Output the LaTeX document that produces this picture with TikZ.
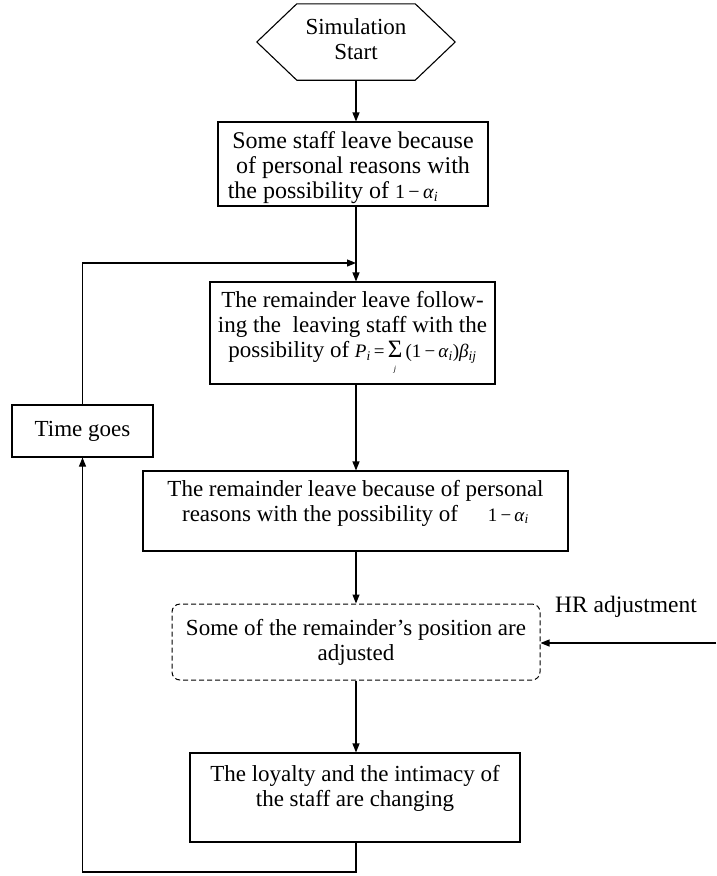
\documentclass[tikz,border=0pt]{standalone}
\usepackage{fontspec}
\setmainfont{Liberation Serif}
\usetikzlibrary{arrows.meta}

% small formula helpers (Times-like italic variables, tiny subscripts)
\newcommand{\mth}[1]{{\fontsize{19}{19}\selectfont #1}}
\newcommand{\ivar}[1]{\textit{#1}}
\newcommand{\isub}[1]{\textsubscript{\textit{#1}}}
\newcommand{\sumj}{\(\mathop{\hbox{\fontsize{25}{25}\selectfont Σ}}\limits_{\hbox{\vrule height 12pt width 0pt\fontsize{8}{8}\selectfont\itshape j}}\)}

\begin{document}
\begin{tikzpicture}[x=1pt,y=-1pt,
  every node/.style={font=\fontsize{23}{25}\selectfont},
  box/.style={draw, line width=1.1pt, inner sep=0pt, align=center},
  frame/.style={draw, line width=1.1pt, inner sep=0pt},
  lbl/.style={inner sep=0pt, align=center},
  wire/.style={line width=1.1pt},
  link/.style={line width=1.1pt, -{Triangle[length=9pt,width=7pt]}}]

\useasboundingbox (0,0) rectangle (716,876);

% main column axis
\coordinate (axis) at (356,0);

% start terminal (hexagon drawn around an invisible frame node)
\node[inner sep=0pt, minimum width=198pt, minimum height=76pt] (start) at (356,42) {};
\node[lbl] (startt) at (356,39) {Simulation\\Start};
\draw[wire] (start.west) -- ([xshift=40pt]start.north west) -- ([xshift=-40pt]start.north east)
  -- (start.east) -- ([xshift=-40pt]start.south east) -- ([xshift=40pt]start.south west) -- cycle;

% process steps
\node[frame, minimum width=270pt, minimum height=84pt] (b1) at (353,164) {};
\node[lbl, font=\fontsize{24}{25}\selectfont] (b1t) at (353,168)
  {Some staff leave because\\of personal reasons with\\the possibility of \mth{\fontsize{20}{20}\selectfont 1\,−\,\ivar{α}\isub{i}}\hspace*{40pt}};

\node[box, minimum width=285pt, minimum height=102pt] (b2) at (352.5,333)
  {The remainder leave follow-\\ing the\ \ leaving staff with the\\possibility of \mth{\ivar{P}\isub{i}\,=\,\sumj\,(1\,−\,\ivar{α}\isub{i})\ivar{β}\isub{ij}}};

\node[frame, minimum width=425pt, minimum height=80pt] (b3) at (355.5,511) {};
\node[lbl] (b3t) at (355.5,503)
  {The remainder leave because of personal\\reasons with the possibility of \hspace{24pt}\mth{1\,−\,\ivar{α}\isub{i}}};

\node[box, dash pattern=on 5pt off 3pt, line width=1pt, rounded corners=8pt,
  minimum width=368pt, minimum height=76pt] (adj) at (356,642)
  {Some of the remainder’s position are\\adjusted};

\node[frame, minimum width=330pt, minimum height=89pt] (b5) at (355,797.5) {};
\node[lbl] (b5t) at (355,788) {The loyalty and the intimacy of\\the staff are changing};

\node[box, minimum width=141pt, minimum height=52pt] (tg) at (82.5,431) {Time goes};

\node[lbl, anchor=west, font=\fontsize{23.5}{25}\selectfont] (hr) at (555,607) {HR adjustment};

% flow
\draw[link] (axis |- start.south) -- (axis |- b1.north);
\draw[link] (axis |- b1.south) -- (axis |- b2.north);
\draw[link] (axis |- b2.south) -- (axis |- b3.north);
\draw[link] (axis |- b3.south) -- (axis |- adj.north);
\draw[link] (axis |- adj.south) -- (axis |- b5.north);

% feedback loop through "Time goes"
\coordinate (loopbot) at (0,872);
\coordinate (looptop) at (0,263);
\draw[link] (axis |- b5.south) -- (axis |- loopbot) -| (tg.south);
\draw[link] (tg.north) |- (axis |- looptop);

% external HR input
\coordinate (hrin) at (716,643);
\draw[link] (hrin) -- (hrin -| adj.east);
\end{tikzpicture}
\end{document}
